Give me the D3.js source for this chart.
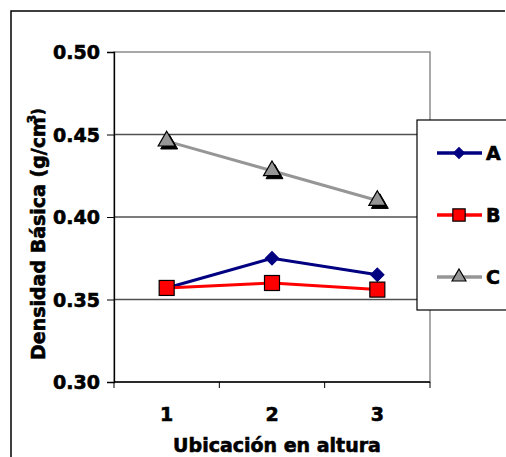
<!DOCTYPE html>
<html>
<head>
<meta charset="utf-8">
<script src="https://d3js.org/d3.v7.min.js"></script>
<style>
  body { margin: 0; background: #fff; }
  text { font-family: "DejaVu Sans", sans-serif; font-weight: bold; fill: #000; stroke: #000; stroke-width: 0.6px; }
</style>
</head>
<body>
<div id="chart"></div>
<script>
// data
var categories = ["1", "2", "3"];
var seriesA = [0.357, 0.375, 0.365];
var seriesB = [0.357, 0.360, 0.356];
var seriesC = [0.446, 0.428, 0.410];
var seriesNames = ["A", "B", "C"];
var yTicks = [0.30, 0.35, 0.40, 0.45, 0.50];

var width = 506, height = 457;
var plot = { left: 114, top: 52, right: 430, bottom: 382 };

var svg = d3.select("#chart").append("svg")
  .attr("width", width)
  .attr("height", height);

// outer chart border (only left and top visible in the crop)
svg.append("path")
  .attr("d", "M11," + height + "V11H505")
  .attr("fill", "none")
  .attr("stroke", "#000")
  .attr("stroke-width", 1.5);

var x = d3.scaleBand().domain(categories).range([plot.left, plot.right]);
var y = d3.scaleLinear().domain([0.30, 0.50]).range([plot.bottom, plot.top]);

// plot area frame
svg.append("rect")
  .attr("x", plot.left).attr("y", plot.top)
  .attr("width", plot.right - plot.left).attr("height", plot.bottom - plot.top)
  .attr("fill", "#fff").attr("stroke", "#8c8c8c").attr("stroke-width", 1.5);

// gridlines
svg.append("g").selectAll("line")
  .data(yTicks.filter(function (d) { return d > 0.30 && d < 0.50; }))
  .join("line")
  .attr("x1", plot.left).attr("x2", plot.right)
  .attr("y1", function (d) { return y(d); }).attr("y2", function (d) { return y(d); })
  .attr("stroke", "#505050").attr("stroke-width", 1.3);

// y axis
var yAxis = svg.append("g")
  .attr("transform", "translate(" + plot.left + ",0)")
  .call(d3.axisLeft(y).tickValues(yTicks).tickFormat(d3.format(".2f")).tickSize(7).tickPadding(7));
yAxis.select(".domain").attr("stroke", "#000").attr("stroke-width", 1.3);
yAxis.selectAll(".tick line").attr("stroke", "#000");
yAxis.selectAll("text").style("font-size", "19px").attr("fill", "#000").attr("dy", "0.36em");

// x axis: ticks on band boundaries, labels at band centres
var xAxis = svg.append("g").attr("transform", "translate(0," + plot.bottom + ")");
xAxis.append("line")
  .attr("x1", plot.left).attr("x2", plot.right)
  .attr("stroke", "#000").attr("stroke-width", 1.5);
var bounds = categories.map(function (c) { return x(c); }).concat([plot.right]);
xAxis.selectAll(".xtick").data(bounds).join("line")
  .attr("class", "xtick")
  .attr("x1", function (d) { return d; }).attr("x2", function (d) { return d; })
  .attr("y1", 0).attr("y2", 6)
  .attr("stroke", "#000");
xAxis.selectAll(".xlab").data(categories).join("text")
  .attr("class", "xlab")
  .attr("x", function (d) { return x(d) + x.bandwidth() / 2; })
  .attr("y", 39)
  .attr("text-anchor", "middle")
  .style("font-size", "19px")
  .text(function (d) { return d; });

// axis titles
svg.append("text")
  .attr("x", 277).attr("y", 452)
  .attr("text-anchor", "middle")
  .style("font-size", "19px")
  .text("Ubicación en altura");

var yTitle = svg.append("text")
  .attr("transform", "translate(45,234) rotate(-90)")
  .attr("text-anchor", "middle")
  .style("font-size", "19px");
yTitle.append("tspan").text("Densidad Básica (g/cm");
yTitle.append("tspan").attr("dx", "-6").attr("dy", "-0.75em").style("font-size", "12px").text("3");
yTitle.append("tspan").attr("dy", "0.45em").style("font-size", "15px").text(")");

// series
var series = [
  { name: "A", values: seriesA, color: "#000080", marker: "diamond" },
  { name: "B", values: seriesB, color: "#ff0000", marker: "square" },
  { name: "C", values: seriesC, color: "#969696", marker: "triangle" }
];

var line = d3.line()
  .x(function (d, i) { return x(categories[i]) + x.bandwidth() / 2; })
  .y(function (d) { return y(d); });

function drawMarker(g, type, cx, cy, scale) {
  if (type === "diamond") {
    g.append("path")
      .attr("d", d3.symbol(d3.symbolSquare, 90 * scale * scale)())
      .attr("transform", "translate(" + cx + "," + cy + ") rotate(45)")
      .attr("fill", "#000080").attr("stroke", "#000080");
  } else if (type === "square") {
    var s = 15 * scale;
    g.append("rect")
      .attr("x", cx - s / 2).attr("y", cy - s / 2)
      .attr("width", s).attr("height", s)
      .attr("fill", "#ff0000").attr("stroke", "#000").attr("stroke-width", 1.2);
  } else {
    var tri = d3.symbol(d3.symbolTriangle, 125 * scale * scale)();
    if (scale === 1) {
      g.append("path").attr("d", tri)
        .attr("transform", "translate(" + (cx + 2.5) + "," + (cy + 3) + ")")
        .attr("fill", "#000").attr("stroke", "#000");
    }
    g.append("path").attr("d", tri)
      .attr("transform", "translate(" + cx + "," + cy + ")")
      .attr("fill", "#969696").attr("stroke", "#000").attr("stroke-width", 1.2);
  }
}

series.forEach(function (s) {
  var g = svg.append("g");
  g.append("path")
    .attr("d", line(s.values))
    .attr("fill", "none")
    .attr("stroke", s.color)
    .attr("stroke-width", 3);
  s.values.forEach(function (v, i) {
    drawMarker(g, s.marker, x(categories[i]) + x.bandwidth() / 2, y(v), 1);
  });
});

// legend
var legend = svg.append("g");
legend.append("rect")
  .attr("x", 417).attr("y", 120)
  .attr("width", 100).attr("height", 190)
  .attr("fill", "#fff").attr("stroke", "#000").attr("stroke-width", 1.2);
var legendY = d3.scalePoint().domain(seriesNames).range([153, 277]);
series.forEach(function (s) {
  var ly = legendY(s.name);
  legend.append("line")
    .attr("x1", 437).attr("x2", 482)
    .attr("y1", ly).attr("y2", ly)
    .attr("stroke", s.color).attr("stroke-width", 3.5);
  drawMarker(legend, s.marker, 459, ly, 0.82);
  legend.append("text")
    .attr("x", 486).attr("y", ly)
    .attr("dy", "0.36em")
    .style("font-size", "19px")
    .text(s.name);
});
</script>
</body>
</html>
